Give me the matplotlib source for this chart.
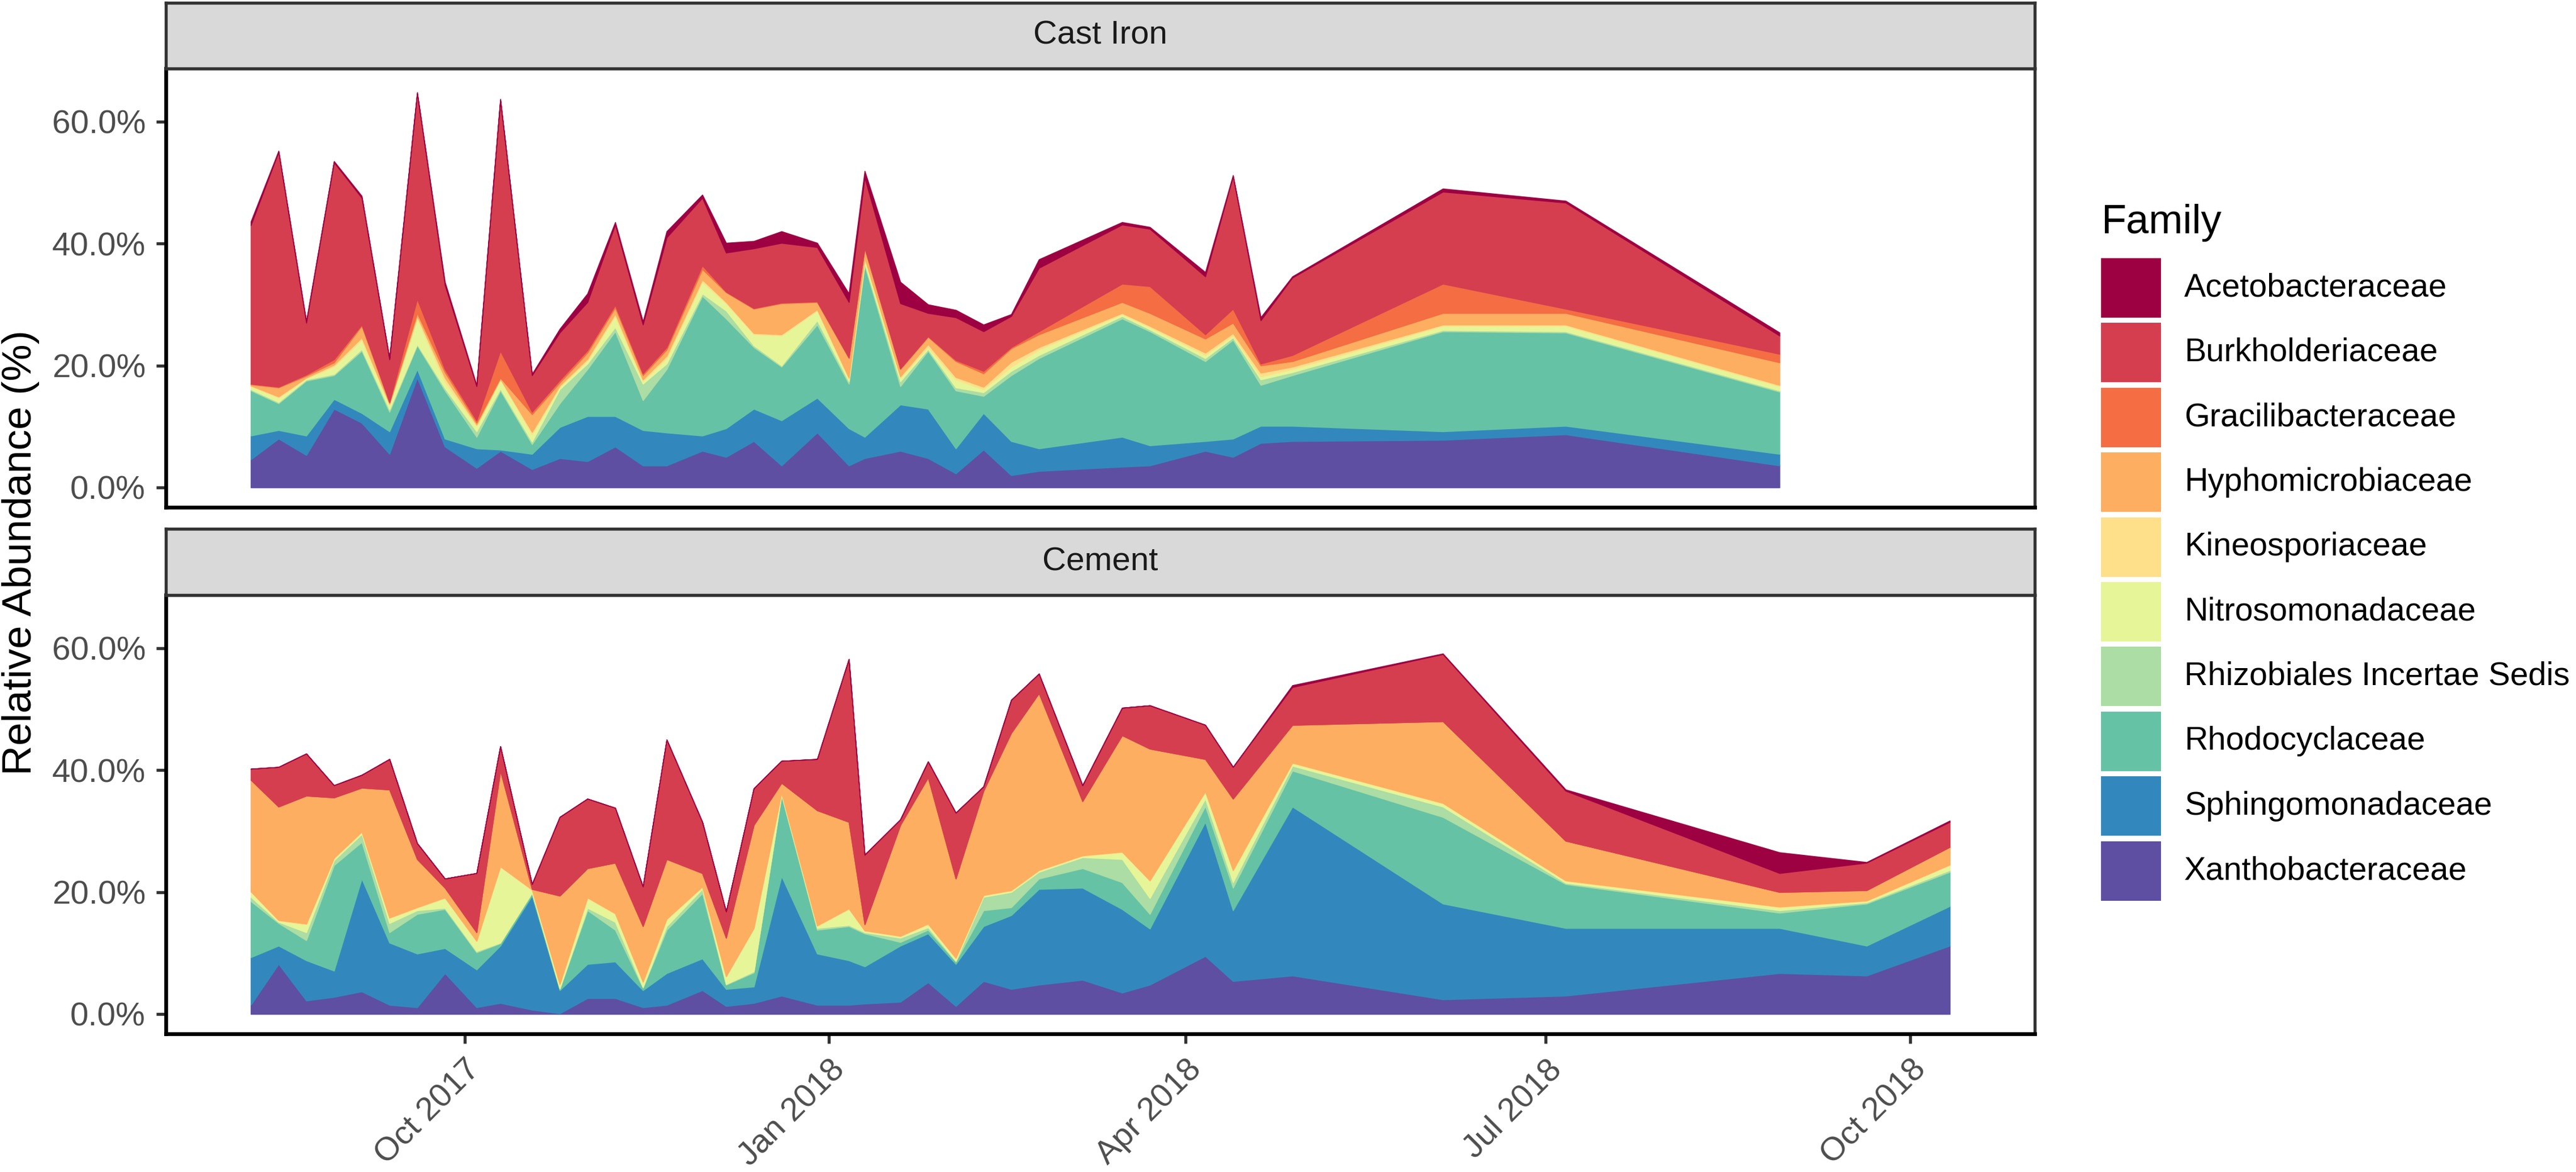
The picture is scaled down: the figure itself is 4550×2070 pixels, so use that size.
import numpy as np
import pandas as pd
import matplotlib
matplotlib.use("Agg")
import matplotlib.pyplot as plt
import matplotlib.dates as mdates
from matplotlib.patches import Rectangle

plt.rcParams['font.family'] = ['Liberation Sans', 'DejaVu Sans']

# legend order (top of the stack first)
families = ["Acetobacteraceae", "Burkholderiaceae", "Gracilibacteraceae",
            "Hyphomicrobiaceae", "Kineosporiaceae", "Nitrosomonadaceae",
            "Rhizobiales Incertae Sedis", "Rhodocyclaceae",
            "Sphingomonadaceae", "Xanthobacteraceae"]
colors = ["#9E0142", "#D53E4F", "#F46D43", "#FDAE61", "#FEE08B",
          "#E6F598", "#ABDDA4", "#66C2A5", "#3288BD", "#5E4FA2"]

# ---- Cast Iron ----
ci_dates = ["2017-08-08", "2017-08-15", "2017-08-22", "2017-08-29", "2017-09-05",
            "2017-09-12", "2017-09-19", "2017-09-26", "2017-10-04", "2017-10-10",
            "2017-10-18", "2017-10-25", "2017-11-01", "2017-11-08", "2017-11-15",
            "2017-11-21", "2017-11-30", "2017-12-06", "2017-12-13", "2017-12-20",
            "2017-12-29", "2018-01-06", "2018-01-10", "2018-01-19", "2018-01-26",
            "2018-02-02", "2018-02-09", "2018-02-16", "2018-02-23", "2018-03-16",
            "2018-03-23", "2018-04-06", "2018-04-13", "2018-04-20", "2018-04-28",
            "2018-06-05", "2018-07-06", "2018-08-29"]
ci_xan = [4.6, 8.0, 5.3, 12.9, 10.6, 5.5, 18.0, 6.7, 3.2, 6.0, 3.0, 4.8, 4.3, 6.7, 3.6, 3.6, 6.0, 5.0, 7.6,
          3.6, 9.0, 3.6, 4.8, 6.0, 4.8, 2.3, 6.2, 2.0, 2.7, 3.4, 3.6, 6.0, 5.0, 7.3, 7.6, 7.8, 8.7, 3.6]
ci_sph = [3.9, 1.4, 3.2, 1.6, 1.6, 3.7, 1.4, 1.3, 3.2, 0.2, 2.5, 5.1, 7.4, 5.0, 5.8, 5.4, 2.5, 4.7, 5.3,
          7.4, 5.7, 6.1, 3.5, 7.6, 8.1, 4.1, 6.0, 5.6, 3.7, 4.9, 3.3, 1.6, 3.0, 2.8, 2.5, 1.4, 1.4, 1.9]
ci_rho = [7.4, 4.4, 9.0, 3.9, 10.2, 3.2, 3.9, 7.9, 1.9, 9.7, 1.6, 3.9, 7.7, 13.9, 4.9, 10.4, 22.9, 18.0, 10.1,
          8.8, 12.0, 7.3, 28.1, 3.0, 9.5, 9.5, 2.8, 10.8, 14.8, 19.4, 18.7, 13.1, 16.2, 6.7, 8.3, 16.4, 15.3, 10.2]
ci_rhiz = [0.2, 0.2, 0.2, 0.2, 0.3, 0.4, 0.2, 0.4, 0.9, 0.3, 0.4, 2.3, 0.9, 0.7, 2.7, 0.9, 0.4, 1.3, 0.3,
           0.2, 0.7, 0.4, 0.4, 0.8, 0.3, 0.5, 0.6, 0.7, 0.5, 0.4, 0.3, 0.5, 0.4, 0.9, 0.5, 0.2, 0.2, 0.2]
ci_nit = [0.5, 0.7, 0.2, 1.2, 1.5, 0.8, 4.2, 1.0, 0.9, 1.5, 1.2, 0.4, 0.5, 1.8, 0.4, 0.9, 1.9, 1.2, 1.8,
          4.9, 1.6, 0.4, 0.6, 0.6, 0.3, 1.3, 0.5, 0.7, 0.9, 0.3, 0.4, 0.5, 0.3, 0.5, 0.5, 0.7, 0.9, 0.7]
ci_kin = [0.1, 0.2, 0.1, 0.3, 0.4, 0.1, 0.4, 0.7, 0.2, 0.1, 0.4, 0.2, 0.3, 0.4, 0.3, 0.4, 0.4, 0.2, 0.2,
          0.2, 0.2, 0.2, 0.3, 0.2, 0.5, 0.4, 0.4, 0.8, 0.4, 0.2, 0.2, 0.4, 0.4, 0.6, 0.4, 0.2, 0.2, 0.2]
ci_hyp = [0.2, 1.5, 0.3, 0.4, 1.9, 0.2, 0.5, 0.9, 0.3, 0.2, 2.9, 0.5, 1.0, 1.0, 0.7, 1.0, 1.7, 1.6, 4.0,
          5.1, 1.2, 3.2, 1.5, 1.2, 1.2, 2.6, 2.2, 2.2, 2.1, 1.8, 2.1, 2.3, 1.7, 1.2, 0.9, 1.9, 1.9, 3.7]
ci_gra = [0.1, 0.1, 0.2, 0.5, 0.2, 0.1, 2.3, 0.5, 0.4, 4.4, 0.4, 0.4, 0.4, 0.4, 0.3, 0.4, 0.6, 0.1, 0.1,
          0.1, 0.1, 0.1, 0.1, 0.1, 0.1, 0.2, 0.4, 0.2, 0.5, 3.0, 4.4, 0.7, 2.3, 0.3, 1.0, 4.8, 0.7, 1.4]
ci_bur = [26.0, 38.5, 8.5, 32.3, 20.8, 7.0, 33.7, 13.8, 5.6, 41.1, 6.0, 7.8, 7.9, 13.2, 8.0, 18.0, 11.1, 6.4, 9.8,
          9.8, 8.9, 9.1, 11.5, 10.7, 3.8, 7.0, 6.5, 5.1, 10.4, 9.7, 9.4, 9.5, 21.7, 7.1, 12.7, 15.1, 17.4, 3.0]
ci_ace = [0.6, 0.2, 0.3, 0.2, 0.3, 0.2, 0.2, 0.5, 0.2, 0.2, 0.2, 0.6, 1.4, 0.4, 0.5, 1.0, 0.5, 1.6, 1.2,
          1.9, 0.7, 1.4, 1.1, 3.5, 1.4, 1.2, 1.1, 0.3, 1.4, 0.4, 0.3, 0.7, 0.2, 0.5, 0.2, 0.5, 0.3, 0.5]

# ---- Cement ----
ce_dates = ["2017-08-08", "2017-08-15", "2017-08-22", "2017-08-29", "2017-09-05",
            "2017-09-12", "2017-09-19", "2017-09-26", "2017-10-04", "2017-10-10",
            "2017-10-18", "2017-10-25", "2017-11-01", "2017-11-08", "2017-11-15",
            "2017-11-21", "2017-11-30", "2017-12-06", "2017-12-13", "2017-12-20",
            "2017-12-29", "2018-01-06", "2018-01-10", "2018-01-19", "2018-01-26",
            "2018-02-02", "2018-02-09", "2018-02-16", "2018-02-23", "2018-03-06",
            "2018-03-16", "2018-03-23", "2018-04-06", "2018-04-13", "2018-04-28",
            "2018-06-05", "2018-07-06", "2018-08-29", "2018-09-20", "2018-10-11"]
ce_xan = [1.5, 8.2, 2.2, 2.8, 3.7, 1.5, 1.1, 6.7, 1.1, 1.8, 0.7, 0.1, 2.6, 2.6, 1.1, 1.5, 3.9, 1.3, 1.8, 3.0,
          1.5, 1.5, 1.7, 2.0, 5.2, 1.3, 5.4, 4.1, 4.8, 5.6, 3.5, 4.8, 9.5, 5.4, 6.3, 2.4, 3.0, 6.7, 6.3, 11.2]
ce_sph = [7.8, 3.0, 6.6, 4.3, 18.5, 10.2, 8.8, 4.1, 6.2, 9.4, 18.7, 3.8, 5.6, 6.0, 2.8, 5.2, 5.2, 2.8, 2.7, 19.6,
          8.4, 7.3, 6.1, 9.2, 8.0, 6.9, 9.0, 12.1, 15.7, 15.1, 13.7, 9.2, 22.0, 11.6, 27.7, 15.7, 11.1, 7.4, 4.9, 6.5]
ce_rho = [9.2, 3.7, 3.3, 17.3, 6.0, 1.7, 6.5, 6.4, 2.8, 0.4, 0.4, 0.2, 8.8, 5.2, 0.4, 7.1, 10.7, 0.7, 2.3, 13.2,
          3.9, 5.6, 5.4, 0.6, 0.6, 0.4, 2.6, 1.3, 1.7, 3.2, 4.4, 2.4, 2.6, 3.7, 5.9, 14.2, 7.2, 2.5, 6.9, 5.6]
ce_rhiz = [0.7, 0.2, 1.3, 0.8, 1.3, 1.5, 0.6, 0.2, 0.2, 0.1, 0.1, 0.1, 0.4, 1.3, 0.1, 0.6, 0.7, 0.1, 0.2, 0.2,
           0.3, 0.2, 0.2, 0.7, 0.4, 0.1, 2.2, 2.5, 1.1, 1.8, 3.8, 2.6, 1.2, 0.9, 0.8, 1.7, 0.2, 0.4, 0.2, 0.3]
ce_nit = [0.8, 0.2, 1.3, 0.3, 0.3, 0.8, 0.4, 1.6, 1.6, 12.4, 0.4, 0.6, 1.6, 1.3, 0.8, 1.1, 0.3, 1.2, 7.0, 0.2,
          0.3, 2.6, 0.2, 0.2, 0.5, 0.4, 0.2, 0.2, 0.2, 0.2, 1.1, 2.8, 1.1, 1.9, 0.4, 0.5, 0.3, 0.5, 0.2, 0.8]
ce_kin = [0.1, 0.1, 0.1, 0.1, 0.1, 0.1, 0.1, 0.1, 0.1, 0.1, 0.1, 0.1, 0.1, 0.1, 0.1, 0.1, 0.1, 0.1, 0.1, 0.1,
          0.1, 0.1, 0.1, 0.1, 0.1, 0.1, 0.1, 0.1, 0.1, 0.1, 0.1, 0.1, 0.1, 0.1, 0.1, 0.1, 0.1, 0.1, 0.1, 0.1]
ce_hyp = [18.3, 18.6, 21.0, 9.9, 7.2, 21.0, 7.9, 1.6, 1.4, 15.7, 0.1, 14.5, 4.8, 8.3, 9.1, 9.8, 2.2, 6.3, 16.9, 1.6,
          18.9, 14.2, 1.0, 18.2, 24.0, 13.0, 17.1, 25.8, 29.0, 8.9, 19.1, 21.6, 5.3, 11.7, 6.2, 13.4, 6.5, 2.4, 1.7, 2.9]
ce_gra = [0, 0, 0, 0, 0, 0, 0, 0, 0, 0, 0, 0, 0, 0, 0, 0, 0, 0, 0, 0,
          0, 0, 0, 0, 0, 0, 0, 0, 0, 0, 0, 0, 0, 0, 0, 0, 0, 0, 0, 0]
ce_bur = [1.8, 6.5, 6.9, 2.0, 2.1, 5.0, 2.6, 1.5, 9.7, 4.0, 0.8, 12.9, 11.4, 9.0, 6.5, 19.6, 8.4, 4.3, 6.0, 3.6,
          8.4, 26.7, 11.4, 0.9, 2.6, 10.8, 0.7, 5.4, 3.2, 2.6, 4.5, 7.1, 5.6, 5.2, 6.2, 11.0, 8.2, 3.1, 4.5, 4.1]
ce_ace = [0, 0, 0, 0, 0, 0, 0, 0, 0, 0, 0, 0, 0, 0, 0, 0, 0, 0, 0, 0,
          0, 0, 0, 0, 0, 0, 0, 0, 0, 0, 0, 0, 0, 0, 0.3, 0.1, 0.2, 3.4, 0.1, 0.2]

panels = [
    ("Cast Iron", ci_dates, [ci_ace, ci_bur, ci_gra, ci_hyp, ci_kin, ci_nit, ci_rhiz, ci_rho, ci_sph, ci_xan]),
    ("Cement", ce_dates, [ce_ace, ce_bur, ce_gra, ce_hyp, ce_kin, ce_nit, ce_rhiz, ce_rho, ce_sph, ce_xan]),
]

W_PX, H_PX = 4550, 2070
fig = plt.figure(figsize=(W_PX / 300, H_PX / 300), dpi=300)

left = 293 / W_PX
width = (3594 - 293) / W_PX
panel_px = [(121, 896, 5), (1051, 1826, 934)]  # panel top, panel bottom, strip top

# x range with ggplot-like 5% expansion
all_dates = pd.to_datetime(ci_dates + ce_dates)
x0 = mdates.date2num(all_dates.min())
x1 = mdates.date2num(all_dates.max())
pad = (x1 - x0) * 0.05

axes = []
for i, (name, dates, series) in enumerate(panels):
    ptop, pbot, stop = panel_px[i]
    ax = fig.add_axes([left, 1 - pbot / H_PX, width, (pbot - ptop) / H_PX])
    sax = fig.add_axes([left, 1 - ptop / H_PX, width, (ptop - stop) / H_PX])

    d = pd.to_datetime(dates)
    # stack bottom-up: Xanthobacteraceae first
    ax.stackplot(d, *series[::-1], colors=colors[::-1], linewidth=0.4, edgecolor='face')

    ax.set_xlim(x0 - pad, x1 + pad)
    ax.set_ylim(-3.25, 68.7)
    ax.set_yticks([0, 20, 40, 60])
    ax.set_yticklabels(["0.0%", "20.0%", "40.0%", "60.0%"])
    ax.tick_params(axis='both', length=4.0, width=1.3, color='#333333',
                   labelsize=14, labelcolor='#4D4D4D', pad=4.6)
    for s in ax.spines.values():
        s.set_color('#333333')
        s.set_linewidth(1.3)
    ax.spines['left'].set_color('black')
    ax.spines['left'].set_linewidth(1.6)
    ax.spines['bottom'].set_color('black')
    ax.spines['bottom'].set_linewidth(1.6)

    sax.set_facecolor('#D9D9D9')
    sax.set_xticks([])
    sax.set_yticks([])
    for s in sax.spines.values():
        s.set_color('#333333')
        s.set_linewidth(1.3)
    sax.text(0.5, 0.5, name, ha='center', va='center', fontsize=14,
             color='#1A1A1A', transform=sax.transAxes)
    axes.append(ax)

ticks = pd.to_datetime(["2017-10-01", "2018-01-01", "2018-04-01", "2018-07-01", "2018-10-01"])
for ax in axes:
    ax.set_xticks(ticks)
axes[0].tick_params(axis='x', bottom=False, labelbottom=False)
axes[1].set_xticklabels([t.strftime("%b %Y") for t in ticks], rotation=45,
                        ha='right', va='top', rotation_mode='anchor')

fig.text(37 / W_PX, 1 - 976 / H_PX, "Relative Abundance (%)", rotation=90,
         ha='center', va='center', fontsize=17.6, color='black')

# legend: title, square keys, labels
fig.text(3711 / W_PX, 1 - 412 / H_PX, "Family", ha='left', va='baseline',
         fontsize=17.3, color='black')
for i, (fam, c) in enumerate(zip(families, colors)):
    top = 456 + i * 114.4
    fig.add_artist(Rectangle((3711 / W_PX, 1 - (top + 105) / H_PX), 106 / W_PX, 105 / H_PX,
                             facecolor=c, edgecolor='none', transform=fig.transFigure))
    fig.text(3858 / W_PX, 1 - (top + 52.5) / H_PX, fam, ha='left', va='center',
             fontsize=13.8, color='black')

fig.savefig("out.png", dpi=300)
